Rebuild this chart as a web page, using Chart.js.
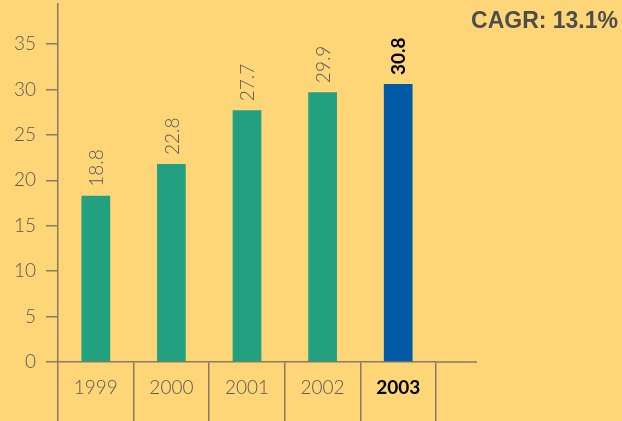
<!DOCTYPE html>
<html>
<head>
    <title>CAGR chart</title>
    <script src="https://cdn.jsdelivr.net/npm/chart.js@4.4.0/dist/chart.umd.min.js"></script>
    <style>
        body {
            margin: 0;
            background: #ffd677;
        }
        #wrap {
            width: 622px;
            height: 421px;
        }
    </style>
</head>
<body>
    <div id="wrap">
        <canvas id="cagrChart" width="622" height="421"></canvas>
    </div>

    <script>
        // data
        const years = ['1999', '2000', '2001', '2002', '2003'];
        const barHeights = [18.3, 21.8, 27.7, 29.7, 30.6];
        const valueLabels = ['18.8', '22.8', '27.7', '29.9', '30.8'];
        const yTicks = [0, 5, 10, 15, 20, 25, 30, 35];
        const cagrText = 'CAGR: 13.1%';

        const axisColor = '#857a62';
        const textGray = '#5a5a5a';
        const lightFont = 'Lato, "Open Sans", sans-serif';
        const last = years.length - 1;

        // rotated value labels above the bars
        const valueLabelPlugin = {
            id: 'valueLabels',
            afterDatasetsDraw(chart) {
                const ctx = chart.ctx;
                const meta = chart.getDatasetMeta(0);
                meta.data.forEach((bar, i) => {
                    ctx.save();
                    ctx.translate(bar.x + 1, bar.y - 9);
                    ctx.rotate(-Math.PI / 2);
                    ctx.textAlign = 'left';
                    ctx.textBaseline = 'middle';
                    if (i === last) {
                        ctx.font = 'bold 19px ' + lightFont;
                        ctx.fillStyle = '#000';
                    } else {
                        ctx.font = '300 19px ' + lightFont;
                        ctx.fillStyle = textGray;
                    }
                    ctx.fillText(valueLabels[i], 0, 0);
                    ctx.restore();
                });
            }
        };

        // CAGR note and the x axis line running past the last category
        const extrasPlugin = {
            id: 'extras',
            afterDraw(chart) {
                const ctx = chart.ctx;
                const area = chart.chartArea;
                ctx.save();
                ctx.strokeStyle = axisColor;
                ctx.lineWidth = 1.5;
                ctx.beginPath();
                ctx.moveTo(area.right, area.bottom);
                ctx.lineTo(area.right + 41, area.bottom);
                ctx.stroke();

                ctx.font = 'bold 23px "Liberation Sans", Arial, sans-serif';
                ctx.fillStyle = '#4d4d4d';
                ctx.textAlign = 'right';
                ctx.textBaseline = 'alphabetic';
                ctx.fillText(cagrText, chart.width - 4, 28);
                ctx.restore();
            }
        };

        new Chart(document.getElementById('cagrChart'), {
            type: 'bar',
            data: {
                labels: years,
                datasets: [{
                    data: barHeights,
                    backgroundColor: years.map((y, i) => i === last ? '#0259a6' : '#22a07f'),
                    borderWidth: 0,
                    categoryPercentage: 1,
                    barPercentage: 0.38
                }]
            },
            options: {
                responsive: false,
                animation: false,
                layout: {
                    autoPadding: false,
                    padding: { top: 4, right: 186, left: 0, bottom: 0 }
                },
                plugins: {
                    legend: { display: false },
                    tooltip: { enabled: false }
                },
                scales: {
                    x: {
                        afterFit(scale) { scale.height = 59; },
                        grid: {
                            offset: true,
                            drawOnChartArea: false,
                            drawTicks: true,
                            tickLength: 59,
                            color: axisColor,
                            lineWidth: 1.5
                        },
                        border: { display: true, color: axisColor, width: 1.5 },
                        ticks: {
                            padding: -45,
                            color: ctx => ctx.index === last ? '#000' : textGray,
                            font: ctx => ({
                                family: lightFont,
                                size: 19,
                                weight: ctx.index === last ? 'bold' : '300'
                            })
                        }
                    },
                    y: {
                        min: 0,
                        max: 39.4,
                        afterFit(scale) {
                            scale.width = 58;
                            scale.paddingTop = 0;
                            scale.paddingBottom = 0;
                        },
                        afterBuildTicks(scale) {
                            scale.ticks = yTicks.map(v => ({ value: v }));
                        },
                        grid: {
                            drawOnChartArea: false,
                            drawTicks: true,
                            tickLength: 12,
                            color: axisColor,
                            lineWidth: 1.5
                        },
                        border: { display: true, color: axisColor, width: 1.5 },
                        ticks: {
                            padding: 10,
                            color: textGray,
                            font: { family: lightFont, size: 19, weight: '300' }
                        }
                    }
                }
            },
            plugins: [valueLabelPlugin, extrasPlugin]
        });
    </script>
</body>
</html>
